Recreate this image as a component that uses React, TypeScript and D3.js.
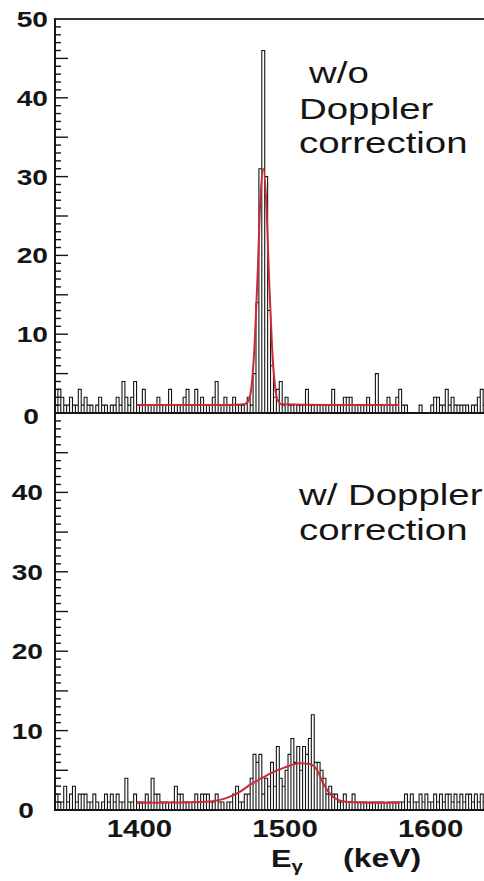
import React from 'react';
import * as d3 from 'd3';

// ---- data ----
const binStart = 1342; // keV, low edge of first bin
const binWidth = 2; // keV
const countsNoDoppler = [
  1, 3, 2, 1, 1, 2, 1, 1, 3, 1,
  2, 1, 1, 0, 1, 2, 1, 1, 0, 1,
  1, 2, 1, 4, 2, 1, 2, 4, 1, 1,
  3, 1, 0, 1, 1, 2, 1, 0, 1, 3,
  1, 1, 0, 1, 2, 3, 1, 1, 3, 1,
  2, 1, 1, 1, 2, 4, 1, 1, 2, 1,
  1, 2, 1, 1, 1, 0, 2, 1, 5, 14,
  31, 46, 30, 13, 6, 2, 3, 4, 1, 2,
  1, 1, 0, 1, 1, 1, 3, 1, 1, 0,
  1, 1, 0, 1, 1, 3, 1, 1, 0, 2,
  2, 2, 1, 1, 0, 1, 1, 2, 1, 1,
  5, 1, 1, 1, 2, 1, 1, 2, 3, 1,
  1, 0, 0, 0, 0, 1, 0, 0, 0, 1,
  2, 2, 1, 1, 3, 1, 2, 1, 1, 1,
  1, 1, 0, 1, 1, 2, 3, 1, 1,
];
const countsDoppler = [
  2, 1, 1, 3, 1, 2, 3, 1, 2, 2,
  2, 1, 1, 2, 1, 0, 1, 2, 1, 2,
  1, 2, 1, 1, 4, 1, 1, 2, 1, 1,
  1, 2, 1, 4, 2, 2, 1, 1, 1, 0,
  1, 3, 2, 2, 1, 1, 0, 1, 2, 1,
  2, 2, 2, 1, 1, 2, 1, 1, 0, 1,
  1, 2, 3, 1, 1, 2, 2, 4, 7, 6,
  7, 2, 4, 3, 6, 3, 8, 4, 3, 5,
  7, 9, 6, 8, 5, 8, 7, 9, 12, 6,
  6, 5, 4, 2, 3, 2, 2, 1, 1, 2,
  1, 1, 2, 1, 1, 1, 1, 0, 1, 1,
  1, 1, 1, 0, 1, 1, 1, 1, 1, 1,
  2, 1, 2, 1, 1, 2, 1, 2, 1, 1,
  2, 1, 2, 1, 2, 2, 1, 2, 1, 2,
  1, 2, 2, 1, 2, 1, 2, 1, 1,
];
const fitNoDopplerE = [1398, 1430, 1460, 1472, 1475, 1477, 1479, 1481, 1483, 1485, 1487, 1489, 1491, 1493, 1495, 1498, 1530, 1578];
const fitNoDopplerY = [1.0, 1.0, 1.0, 1.1, 1.6, 3.5, 8.5, 17, 27, 31, 27, 17, 8.5, 3.5, 1.6, 1.1, 1.0, 1.0];
const fitDopplerE = [1398, 1430, 1450, 1458, 1465, 1470, 1476, 1484, 1490, 1499, 1510, 1517, 1522, 1526, 1531, 1536, 1543, 1560, 1579];
const fitDopplerY = [0.9, 0.95, 1.1, 1.4, 1.9, 2.4, 3.2, 4.0, 4.6, 5.3, 5.9, 5.8, 5.0, 3.4, 2.0, 1.3, 1.0, 0.9, 0.9];
const xTicks = [1400, 1500, 1600];
const yTicksTop = [0, 10, 20, 30, 40, 50];
const yTicksBottom = [0, 10, 20, 30, 40];
const yMax = 50;

// ---- layout ----
const W = 484, H = 881;
const left = 55, right = 489;
const topY0 = 19, midY = 413, botY = 810;
const FONT = "'Liberation Sans', Arial, Helvetica, sans-serif";
const SX = 1.28;
const RED = '#cc2a35';
const INK = '#151515';

function Panel({ counts, fitE, fitY, yTop, yBottom, id }) {
  const x = d3.scaleLinear().domain([binStart, 1640]).range([left, right]);
  const y = d3.scaleLinear().domain([0, yMax]).range([yBottom, yTop]);
  const bins = counts.map((c, i) => ({ lo: binStart + i * binWidth, hi: binStart + (i + 1) * binWidth, c }));
  const pathD = bins
    .filter((b) => b.c > 0)
    .map((b) => `M${x(b.lo)},${y(0)}V${y(b.c)}H${x(b.hi)}V${y(0)}`)
    .join('');
  const line = d3
    .line<number>()
    .x((d, i) => x(fitE[i]))
    .y((d) => y(d))
    .curve(d3.curveMonotoneX);
  const minor = d3.range(0, yMax + 1, 1);
  return (
    <g>
      <defs>
        <clipPath id={id}>
          <rect x={left} y={yTop} width={right - left} height={yBottom - yTop} />
        </clipPath>
      </defs>
      <g clipPath={`url(#${id})`}>
        <path d={pathD} fill="none" stroke={INK} strokeWidth={1.1} />
        <path d={line(fitY) || ''} fill="none" stroke={RED} strokeWidth={2} />
      </g>
      {minor.map((v) => (
        <line
          key={v}
          x1={left}
          x2={left + (v % 5 === 0 ? 13 : 6)}
          y1={y(v)}
          y2={y(v)}
          stroke={INK}
          strokeWidth={1.4}
        />
      ))}
    </g>
  );
}

export default function App() {
  const x = d3.scaleLinear().domain([binStart, 1640]).range([left, right]);
  const yT = d3.scaleLinear().domain([0, yMax]).range([midY, topY0]);
  const yB = d3.scaleLinear().domain([0, yMax]).range([botY, midY]);
  const tickLabel = (v, yy, xr, x0) => (
    <text
      key={v}
      transform={`translate(${v === 0 ? x0 : xr},${yy}) scale(${SX},1)`}
      textAnchor="end"
      dy="0.36em"
      fontFamily={FONT}
      fontWeight="bold"
      fontSize={22}
      fill={INK}
    >
      {v}
    </text>
  );
  const note = (s, xx, yy) => (
    <text
      transform={`translate(${xx},${yy}) scale(${SX},1)`}
      fontFamily={FONT}
      fontSize={30}
      fill={INK}
    >
      {s}
    </text>
  );
  return (
    <svg width={W} height={H} style={{ position: 'absolute', left: 0, top: 0, background: '#fff' }}>
      <rect x={0} y={0} width={W} height={H} fill="#fff" />
      <Panel counts={countsNoDoppler} fitE={fitNoDopplerE} fitY={fitNoDopplerY} yTop={topY0} yBottom={midY} id="clipTop" />
      <Panel counts={countsDoppler} fitE={fitDopplerE} fitY={fitDopplerY} yTop={midY} yBottom={botY} id="clipBot" />
      {/* frame */}
      <line x1={left} x2={left} y1={topY0 - 1} y2={botY + 1} stroke={INK} strokeWidth={2} />
      <line x1={left} x2={W} y1={topY0} y2={topY0} stroke="#333" strokeWidth={2.2} />
      <line x1={left} x2={W} y1={midY} y2={midY} stroke={INK} strokeWidth={2} />
      <line x1={left} x2={W} y1={botY} y2={botY} stroke={INK} strokeWidth={2} />
      {/* y tick labels */}
      {yTicksTop.map((v) => tickLabel(v, yT(v) + (v === 0 ? 3 : 0), 48, 39))}
      {yTicksBottom.map((v) => tickLabel(v, yB(v), 43, 34))}
      {/* x tick labels */}
      {xTicks.map((v) => (
        <text
          key={v}
          transform={`translate(${x(v)},${837}) scale(${SX},1)`}
          textAnchor="middle"
          fontFamily={FONT}
          fontWeight="bold"
          fontSize={23}
          fill={INK}
        >
          {v}
        </text>
      ))}
      <text
        transform={`translate(${271},${867}) scale(${SX},1)`}
        fontFamily={FONT}
        fontWeight="bold"
        fontSize={24}
        fill={INK}
      >
        E
        <tspan fontSize={16} dy={5}>γ</tspan>
      </text>
      <text
        transform={`translate(${343},${867}) scale(${SX},1)`}
        fontFamily={FONT}
        fontWeight="bold"
        fontSize={25}
        fill={INK}
      >
        (keV)
      </text>
      {/* annotations */}
      {note('w/o', 309, 83)}
      {note('Doppler', 299, 119)}
      {note('correction', 299, 153)}
      {note('w/ Doppler', 299, 505)}
      {note('correction', 299, 540)}
    </svg>
  );
}
